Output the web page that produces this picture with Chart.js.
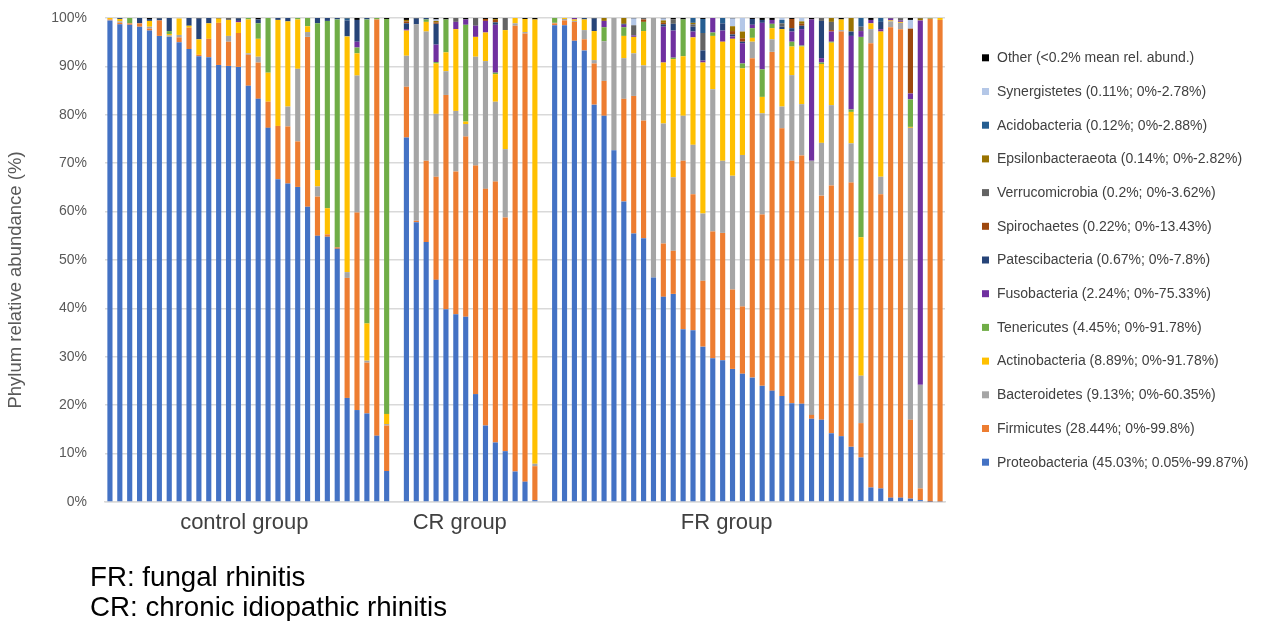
<!DOCTYPE html>
<html>
<head>
<meta charset="utf-8">
<script src="https://cdn.jsdelivr.net/npm/chart.js@4.4.0/dist/chart.umd.min.js"></script>
<style>
html,body{margin:0;padding:0;background:#fff;overflow:hidden}
canvas{display:block}
</style>
</head>
<body>
<canvas id="c" width="1265" height="621"></canvas>
<script>
// ---------------- DATA ----------------
const groupNames = ['control group', 'CR group', 'FR group'];
const groupSizes = [29, 14, 40];
const yTicks = [0, 10, 20, 30, 40, 50, 60, 70, 80, 90, 100];
const yTitle = 'Phylum relative abundance (%)';
const footnotes = ['FR: fungal rhinitis', 'CR: chronic idiopathic rhinitis'];

// legend texts, bottom of stack first
const seriesNames = [
  'Proteobacteria (45.03%; 0.05%-99.87%)',
  'Firmicutes (28.44%; 0%-99.8%)',
  'Bacteroidetes (9.13%; 0%-60.35%)',
  'Actinobacteria (8.89%; 0%-91.78%)',
  'Tenericutes (4.45%; 0%-91.78%)',
  'Fusobacteria (2.24%; 0%-75.33%)',
  'Patescibacteria (0.67%; 0%-7.8%)',
  'Spirochaetes (0.22%; 0%-13.43%)',
  'Verrucomicrobia (0.2%; 0%-3.62%)',
  'Epsilonbacteraeota (0.14%; 0%-2.82%)',
  'Acidobacteria (0.12%; 0%-2.88%)',
  'Synergistetes (0.11%; 0%-2.78%)',
  'Other (<0.2% mean rel. abund.)'
];

// each series: [control, CR, FR] relative abundances (%)
const proteobacteria = [
  [99.5,98.7,98.6,98.2,97.4,96.3,96.1,95.0,93.6,92.1, 91.9,90.3,90.1,89.9,86.0,83.3,77.3,66.7,65.8,65.1, 61.0,55.0,54.8,52.3,21.5,19.0,18.3,13.7,6.4],
  [75.3,57.8,53.7,45.9,39.8,38.8,38.3,22.3,15.8,12.3,10.5,6.3,4.2,0.4],
  [98.5,98.5,95.3,93.3,82.1,79.8,72.7,62.1,55.5,54.5, 46.4,42.4,43.0,35.7,35.5,32.1,29.7,29.3,27.5,26.5, 25.7,24.0,23.0,21.9,20.4,20.3,17.2,17.0,14.2,13.6, 11.4,9.2,3.0,2.8,0.9,0.9,0.7,0.4,0.05,0.1]
];
const firmicutes = [
  [0.2,0.3,0.3,0.7,0.4,3.2,0,1.0,4.4,0.3, 3.8,8.7,5.0,7.0,6.4,7.5,5.4,11.0,11.8,9.4, 35.1,8.1,0.5,0.3,24.8,40.8,10.5,86.0,9.4],
  [10.5,0.3,16.8,21.3,44.3,29.5,37.2,47.2,48.9,53.9,48.3,92.1,92.6,7.0],
  [0.4,1.0,3.9,2.3,8.5,7.2,0,21.2,28.4,24.3, 0,11.0,8.9,34.8,28.1,13.6,26.2,26.3,16.4,13.9, 66.0,35.4,70.0,55.3,50.1,51.3,0.8,46.3,51.2,83.6, 54.6,7.1,91.8,60.8,97.2,96.8,16.3,2.4,99.8,99.5]
];
const bacteroidetes = [
  [0,0.3,0,0,0.4,0,0.3,0.5,0,0, 0,0,1.2,0,0.3,1.2,0,0,4.1,15.0, 1.0,2.1,0,0,1.2,28.3,0.4,0,0.3],
  [6.4,40.6,26.7,13.0,4.9,12.5,2.6,22.5,26.4,16.5,14.1,0.5,0.3,0.5],
  [0.1,0.3,0.2,1.9,0.7,8.2,27.3,8.4,8.8,11.4, 53.6,24.8,15.2,9.3,10.2,13.9,29.4,14.9,23.5,31.3, 3.4,20.9,2.6,4.5,17.7,10.6,52.5,10.9,16.6,0.3, 8.1,9.8,2.9,3.6,1.2,1.3,60.3,21.4,0,0]
];
const actinobacteria = [
  [0.3,0.5,0,0,1.2,0,0.3,3.4,0.4,3.2, 3.2,0.9,3.3,2.2,7.0,3.7,6.0,21.9,17.6,10.2, 1.2,3.4,5.4,0,48.7,4.6,7.7,0,2.1],
  [5.2,0,2.0,10.4,3.9,16.9,0.5,4.1,5.9,5.7,24.6,1.1,2.7,91.8],
  [0,0.2,0.3,2.2,6.0,0,0,4.6,3.4,7.1, 0,12.6,24.4,12.3,22.2,31.2,11.0,24.6,28.3,17.9, 0.8,3.4,2.3,16.0,5.9,11.9,0,16.3,12.9,2.2, 6.5,28.6,1.2,30.0,0.2,0.2,0.2,0,0,0.4]
];
const tenericutes = [
  [0,0,1.1,0,0,0,0.6,0,0,0, 0,0,0,0,0.3,3.2,11.3,0,0,0.3, 1.7,30.3,38.7,47.1,0,1.2,62.8,0.3,81.6],
  [0,0,0.5,0.3,6.8,0,20.0,0,0,0.3,0,0,0,0],
  [1.0,0,0,0,0,2.9,0,1.8,0,1.9, 0,0,0.3,7.6,0,0,0.7,0,0,1.0, 2.0,5.7,0.9,0,1.0,0.2,0,0.3,0.2,0, 0.5,41.4,0,0,0,0,5.7,0,0.15,0]
];
const fusobacteria = [
  [0,0,0,0,0,0,0,0,0,0, 0,0,0,0.3,0,0,0,0,0,0, 0,0,0,0,0,1.2,0,0,0],
  [0.3,0,0,3.6,0,1.5,1.1,2.3,2.4,9.9,0,0,0,0],
  [0,0,0.3,0,0,1.3,0,0.5,0.3,0, 0,7.4,5.6,0,1.2,0.4,3.0,2.3,0.5,4.2, 0.7,9.6,0.8,0,2.1,3.4,29.2,0.9,2.1,0, 15.2,1.2,0.7,0.5,0.4,0.3,1.2,75.3,0,0]
];
const patescibacteria = [
  [0,0.2,0,1.1,0.4,0.4,2.7,0,1.6,4.3, 1.1,0,0,0.5,0,0.8,0,0.4,0.7,0, 0,1.1,0.6,0.3,3.3,4.5,0.3,0,0],
  [1.2,1.2,0.3,4.3,0,0,0,0,0,0.5,0,0,0,0],
  [0,0,0,0.3,2.6,0,0,0.2,0,0, 0,0.5,1.4,0,1.0,2.1,0,1.5,0.4,0.3, 1.2,0.6,0,0.5,0.7,0.7,0,7.7,0,0, 0.9,0,0,1.5,0,0,0,0,0,0]
];
const spirochaetes = [
  [0,0,0,0,0,0,0,0,0,0, 0,0,0,0,0,0,0,0,0,0, 0,0,0,0,0,0,0,0,0],
  [0.4,0,0,0.3,0,0,0,0,0.4,0.5,0,0,0,0],
  [0,0,0,0,0,0,0,0,0,0.5, 0,0.3,0,0,0,0,0,0,0.7,0.7, 0,0,0,0,1.9,0.4,0,0,0.3,0, 0,0,0,0,0,0,13.4,0,0,0]
];
const verrucomicrobia = [
  [0,0,0,0,0,0,0,0,0,0, 0,0,0.4,0,0,0,0,0,0,0, 0,0,0,0,0,0,0,0,0],
  [0,0,0,0,0,0.8,0,1.6,0,0,2.5,0,0,0],
  [0,0,0,0,0,0,0,0,2.1,0.3, 0,0,0.9,0,0.5,3.6,0,0,0,0, 0,0,0,0.7,0,0,0,0.6,1.7,0, 0,0.9,0,0,0,0.4,0,0,0,0]
];
const epsilonbacteraeota = [
  [0,0,0,0,0,0,0,0,0,0, 0,0,0,0,0,0,0,0,0,0, 0,0,0,0,0,0,0,0,0],
  [0.3,0,0,0.3,0,0,0,0,0,0.2,0,0,0,0],
  [0,0,0,0,0,0.6,0,1.2,0,0, 0,0.5,0,0,0.3,0,0,0,1.0,1.4, 0,0,0,0,0,0.5,0,0,0.8,0, 2.8,0,0,0,0,0,0,0.4,0,0]
];
const acidobacteria = [
  [0,0,0,0,0,0,0,0,0,0, 0,0,0,0,0,0,0,0,0,0, 0,0,0,0,0.4,0,0,0,0],
  [0,0,0,0,0,0,0,0,0,0,0,0,0,0],
  [0,0,0,0,0,0,0,0,0,0, 0,0,0,0,1.0,2.9,0,1.1,0,0, 0,0,0,0.7,0,0,0,0,0,0, 0,1.8,0,0.8,0,0,0,0,0,0]
];
const synergistetes = [
  [0,0,0,0,0,0,0,0.1,0,0, 0,0,0,0,0,0,0,0,0,0, 0,0,0,0,0,0,0,0,0],
  [0,0,0,0.3,0,0,0,0,0,0,0,0,0,0],
  [0,0,0,0,0,0,0,0,1.4,0, 0,0.4,0,0,0,0,0,0,1.6,2.8, 0,0,0,0.4,0,0.7,0,0,0,0, 0,0,0,0,0,0,1.8,0,0,0]
];
const other = [
  [0,0,0,0,0.2,0.1,0,0,0,0.1, 0,0.1,0,0.1,0,0.3,0,0,0,0, 0,0,0,0,0.1,0.4,0,0,0.2],
  [0.4,0.1,0,0.3,0.3,0,0.3,0,0.2,0.2,0,0,0.2,0.3],
  [0,0,0,0,0.1,0,0,0,0.1,0, 0,0.1,0.3,0.3,0,0.2,0,0,0.1,0, 0.2,0.4,0.4,0,0.2,0,0.3,0,0,0.3, 0,0,0.4,0,0.1,0.1,0.4,0.1,0,0]
];

// ---------------- STYLE ----------------
const seriesColors = ['#4472C4','#ED7D31','#A5A5A5','#FFC000','#70AD47','#7030A0','#264478','#9E480E','#636363','#997300','#255E91','#B4C7E7','#000000'];
const FONT = '"Liberation Sans", Arial, sans-serif';

// ---------------- BUILD ----------------
const allSeries = [proteobacteria, firmicutes, bacteroidetes, actinobacteria, tenericutes, fusobacteria,
  patescibacteria, spirochaetes, verrucomicrobia, epsilonbacteraeota, acidobacteria, synergistetes, other];

function withGaps(groups) {
  const out = [];
  groups.forEach((g, i) => { if (i > 0) out.push(null); out.push(...g); });
  return out;
}
const labels = [];
groupNames.forEach((g, i) => {
  if (i > 0) labels.push('');
  for (let k = 0; k < groupSizes[i]; k++) labels.push(g + ' ' + (k + 1));
});

const datasets = allSeries.map((s, i) => ({
  label: seriesNames[i],
  data: withGaps(s),
  backgroundColor: seriesColors[i],
  borderWidth: 0,
  barPercentage: 0.52,
  categoryPercentage: 1.0,
  stack: 's'
}));

const decor = {
  id: 'decor',
  afterDraw(chart) {
    const { ctx, chartArea, scales } = chart;
    const x = scales.x;
    ctx.save();
    // y-axis title (centred on plot + category label band, as in the original)
    ctx.save();
    ctx.translate(16, (chartArea.top + chartArea.bottom + 40) / 2);
    ctx.rotate(-Math.PI / 2);
    ctx.font = '18.5px ' + FONT;
    ctx.fillStyle = '#595959';
    ctx.textAlign = 'center';
    ctx.textBaseline = 'middle';
    ctx.fillText(yTitle, 0, 0);
    ctx.restore();
    // group labels under the axis
    const anchors = [13.6, 35.4, 62.4];
    ctx.font = '22px ' + FONT;
    ctx.fillStyle = '#404040';
    ctx.textAlign = 'center';
    ctx.textBaseline = 'middle';
    groupNames.forEach((g, i) => {
      ctx.fillText(g, x.getPixelForValue(anchors[i]), chartArea.bottom + 21);
    });
    // legend (top of stack first)
    const n = chart.data.datasets.length;
    const rowH = 33.7;
    const cy = (chartArea.top + chartArea.bottom) / 2;
    const y0 = cy - (n - 1) / 2 * rowH;
    ctx.font = '14px ' + FONT;
    ctx.textAlign = 'left';
    for (let k = 0; k < n; k++) {
      const ds = chart.data.datasets[n - 1 - k];
      const y = y0 + k * rowH;
      ctx.fillStyle = ds.backgroundColor;
      ctx.fillRect(chartArea.right + 37, y - 3.5, 7, 7);
      ctx.fillStyle = '#404040';
      ctx.fillText(ds.label, chartArea.right + 52, y + 0.5);
    }
    // footnotes
    ctx.font = '27.7px ' + FONT;
    ctx.fillStyle = '#000000';
    ctx.textBaseline = 'alphabetic';
    footnotes.forEach((t, i) => ctx.fillText(t, 90, 586 + i * 29.5));
    ctx.restore();
  }
};

new Chart(document.getElementById('c'), {
  type: 'bar',
  data: { labels, datasets },
  plugins: [decor],
  options: {
    responsive: false,
    animation: false,
    devicePixelRatio: 1,
    layout: { padding: { left: 0, right: 320, top: 18, bottom: 0 } },
    plugins: { legend: { display: false }, tooltip: { enabled: false } },
    scales: {
      x: {
        stacked: true,
        ticks: { display: false },
        grid: { display: false, drawTicks: false },
        border: { display: true, color: '#D9D9D9', width: 1.5 },
        afterFit(s) { s.height = 119; }
      },
      y: {
        stacked: true,
        min: 0, max: 100,
        afterBuildTicks(s) { s.ticks = yTicks.map(v => ({ value: v })); },
        ticks: { callback: v => v + '%', color: '#595959', font: { family: FONT, size: 14 }, padding: 0 },
        grid: { color: '#D9D9D9', lineWidth: 1.5, drawTicks: true, tickLength: 18, tickColor: 'rgba(0,0,0,0)' },
        border: { display: false },
        title: { display: false },
        afterFit(s) { s.width = 105; }
      }
    }
  }
});
</script>
</body>
</html>
